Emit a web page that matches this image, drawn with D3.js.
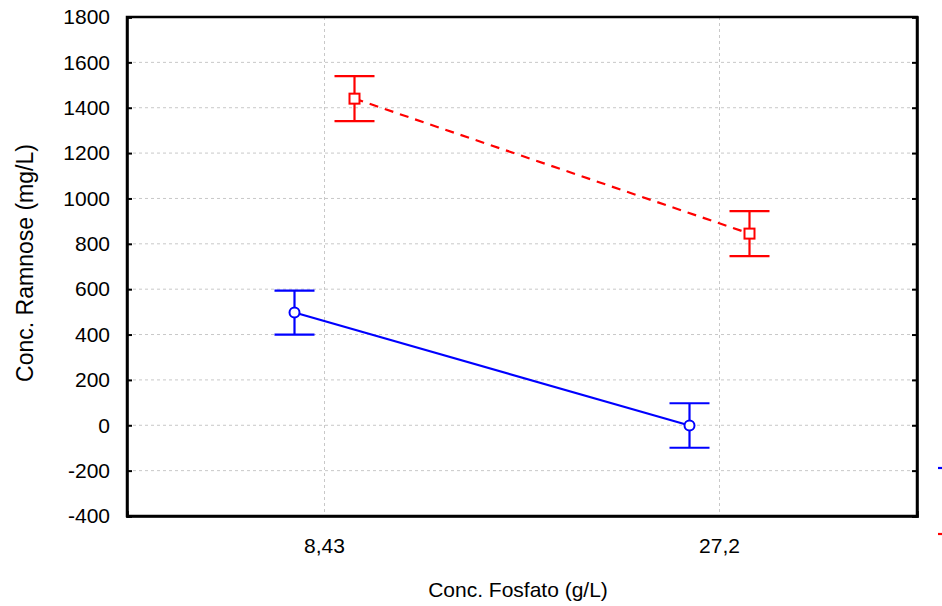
<!DOCTYPE html>
<html><head><meta charset="utf-8">
<script src="https://cdn.jsdelivr.net/npm/d3@7"></script>
<style>body{margin:0;background:#fff}svg{display:block}text{font-family:"Liberation Sans",Arial,sans-serif}</style>
</head><body>
<svg id="c" width="942" height="606"></svg>
<script>
const categories = ["8,43", "27,2"];
const yTicks = [-400,-200,0,200,400,600,800,1000,1200,1400,1600,1800];
const blueMeans = [497, -1];
const blueErr = [97, 98];
const redMeans = [1440, 845];
const redErr = [99, 99];

const svg = d3.select("#c");
const L = 127, R = 917, T = 17, B = 516;
const x = d3.scaleBand().domain(categories).range([L, R]).padding(0);
const y = d3.scaleLinear().domain([-400, 1800]).range([B, T]);
const cx = c => x(c) + x.bandwidth() / 2;

// grid
svg.append("g").selectAll("line").data(yTicks.filter(d => d > -400 && d < 1800)).join("line")
  .attr("x1", L).attr("x2", R).attr("y1", d => y(d)).attr("y2", d => y(d))
  .attr("stroke", "#c8c8c8").attr("stroke-dasharray", "3,3");
svg.append("g").selectAll("line").data(categories).join("line")
  .attr("x1", d => cx(d)).attr("x2", d => cx(d)).attr("y1", T).attr("y2", B)
  .attr("stroke", "#c8c8c8").attr("stroke-dasharray", "3,3");

// axes
const fmt = d => String(d);
const yAxis = d3.axisLeft(y).tickValues(yTicks).tickFormat(fmt).tickSize(-5).tickPadding(17);
const gy = svg.append("g").attr("transform", `translate(${L},0)`).call(yAxis);
const gy2 = svg.append("g").attr("transform", `translate(${R},0)`).call(d3.axisRight(y).tickValues(yTicks).tickSize(-5).tickFormat(""));
const xAxis = d3.axisBottom(x).tickSize(-5).tickPadding(22);
const gx = svg.append("g").attr("transform", `translate(0,${B})`).call(xAxis);
[gy, gy2, gx].forEach(g => {
  g.attr("font-size", 21).attr("font-family", "Liberation Sans, Arial, sans-serif");
  g.select(".domain").attr("stroke", "#000").attr("stroke-width", 2.5);
  g.selectAll(".tick line").attr("stroke", "#000").attr("stroke-width", 2);
  g.selectAll("text").attr("fill", "#000");
});
gx.selectAll(".tick line").remove();
svg.append("rect").attr("x", L).attr("y", T).attr("width", R - L).attr("height", B - T)
  .attr("fill", "none").attr("stroke", "#000").attr("stroke-width", 2.5);

// series
function series(means, errs, color, off, dashed, shape) {
  const pts = categories.map((c, i) => ({ x: cx(c) + off, m: means[i], e: errs[i] }));
  const g = svg.append("g");
  g.append("path").datum(pts)
    .attr("d", d3.line().x(d => d.x).y(d => y(d.m)))
    .attr("fill", "none").attr("stroke", color).attr("stroke-width", 2.2)
    .attr("stroke-dasharray", dashed ? "9,7" : null);
  pts.forEach(p => {
    g.append("line").attr("x1", p.x).attr("x2", p.x).attr("y1", y(p.m + p.e)).attr("y2", y(p.m - p.e))
      .attr("stroke", color).attr("stroke-width", 2.2);
    [p.m + p.e, p.m - p.e].forEach(v => g.append("line").attr("x1", p.x - 20).attr("x2", p.x + 20)
      .attr("y1", y(v)).attr("y2", y(v)).attr("stroke", color).attr("stroke-width", 2.2));
    if (shape === "circle") {
      g.append("circle").attr("cx", p.x).attr("cy", y(p.m)).attr("r", 5)
        .attr("fill", "#fff").attr("stroke", color).attr("stroke-width", 2);
    } else {
      g.append("rect").attr("x", p.x - 5).attr("y", y(p.m) - 5).attr("width", 10).attr("height", 10)
        .attr("fill", "#fff").attr("stroke", color).attr("stroke-width", 2);
    }
  });
}
series(blueMeans, blueErr, "#0000ff", -30, false, "circle");
series(redMeans, redErr, "#ff0000", 30, true, "square");

// legend stubs (clipped at right edge)
svg.append("line").attr("x1", 938).attr("x2", 950).attr("y1", 468).attr("y2", 468).attr("stroke", "#0000ff").attr("stroke-width", 2.2);
svg.append("line").attr("x1", 938).attr("x2", 950).attr("y1", 534).attr("y2", 534).attr("stroke", "#ff0000").attr("stroke-width", 2.2);

// titles
svg.append("text").attr("x", 518).attr("y", 597).attr("text-anchor", "middle").attr("font-size", 21).text("Conc. Fosfato (g/L)");
svg.append("text").attr("transform", "translate(33,263) rotate(-90)").attr("text-anchor", "middle").attr("font-size", 23).text("Conc. Ramnose (mg/L)");
</script>
</body></html>
